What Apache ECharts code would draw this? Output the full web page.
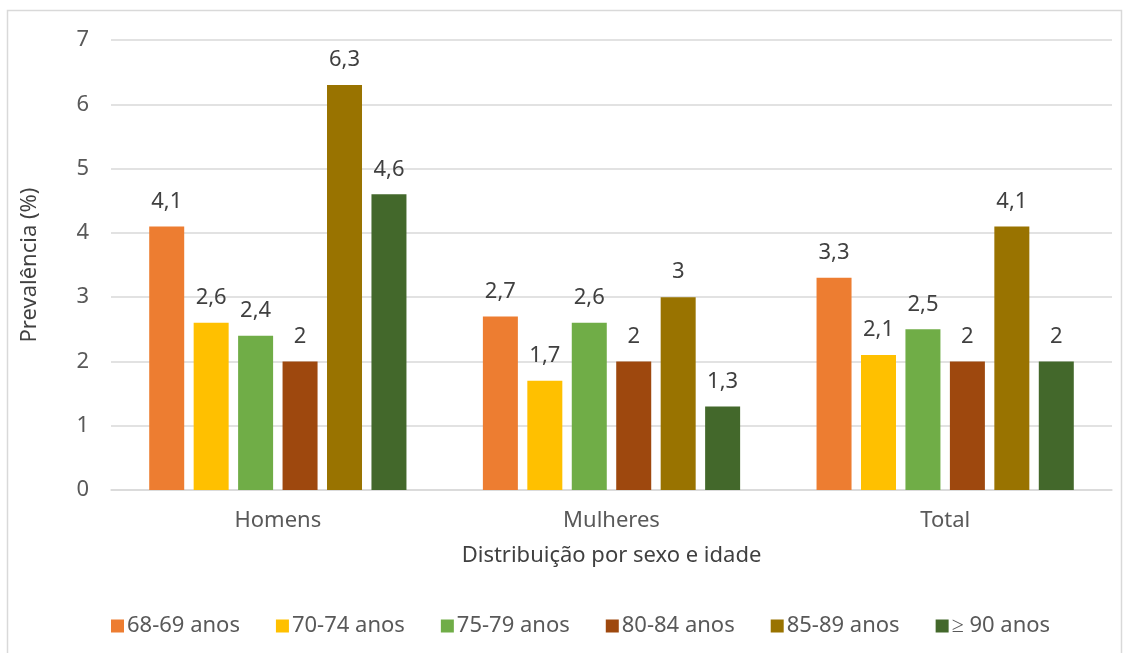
<!DOCTYPE html>
<html><head><meta charset="utf-8">
<script src="https://cdn.jsdelivr.net/npm/echarts@6/dist/echarts.min.js"></script>
<style>html,body{margin:0;padding:0;background:#fff}#c{width:1129px;height:653px}</style>
</head><body><div id="c"></div>
<script>
const categories = ['Homens', 'Mulheres', 'Total'];
const seriesNames = ['68-69 anos', '70-74 anos', '75-79 anos', '80-84 anos', '85-89 anos', '≥ 90 anos'];
const s6869 = [4.1, 2.7, 3.3];
const s7074 = [2.6, 1.7, 2.1];
const s7579 = [2.4, 2.6, 2.5];
const s8084 = [2, 2, 2];
const s8589 = [6.3, 3, 4.1];
const s90 = [4.6, 1.3, 2];
const colors = ['#ED7D31', '#FFC000', '#70AD47', '#9E480E', '#997300', '#43682B'];
const allData = [s6869, s7074, s7579, s8084, s8589, s90];
const font = 'Noto Sans';
const fs = 22;
const chart = echarts.init(document.getElementById('c'));
chart.setOption({
  animation: false,
  textStyle: { fontFamily: font },
  graphic: [{ type: 'rect', shape: { x: 7.5, y: 10.5, width: 1114, height: 650 }, style: { fill: 'none', stroke: '#d9d9d9', lineWidth: 1.5 }, silent: true }],
  grid: { left: 111, right: 17, top: 40, bottom: 163 },
  legend: {
    top: 610, left: 106, itemWidth: 13, itemHeight: 13, itemGap: 36,
    icon: 'rect',
    textStyle: { fontSize: fs, color: '#595959', fontFamily: font, padding: [0, 0, 0, -2] },
    data: seriesNames
  },
  xAxis: {
    type: 'category', data: categories,
    name: 'Distribuição por sexo e idade', nameLocation: 'middle', nameGap: 55,
    nameTextStyle: { fontSize: fs, color: '#404040' },
    axisLine: { lineStyle: { color: '#d9d9d9', width: 1.5 } },
    axisTick: { show: false },
    axisLabel: { fontSize: fs, color: '#595959', margin: 20 }
  },
  yAxis: {
    type: 'value', min: 0, max: 7, interval: 1,
    name: 'Prevalência (%)', nameLocation: 'middle', nameGap: 70, nameRotate: 90,
    nameTextStyle: { fontSize: fs, color: '#404040' },
    axisLine: { show: false }, axisTick: { show: false },
    axisLabel: { fontSize: fs, color: '#595959', margin: 22 },
    splitLine: { lineStyle: { color: '#d9d9d9', width: 1.5 } }
  },
  series: seriesNames.map((n, i) => ({
    name: n, type: 'bar', data: allData[i],
    barWidth: 35, barGap: '27%',
    itemStyle: { color: colors[i] },
    label: { show: true, position: 'top', distance: 14, fontSize: fs, color: '#404040',
      formatter: p => String(p.value).replace('.', ',') }
  }))
});
</script></body></html>
